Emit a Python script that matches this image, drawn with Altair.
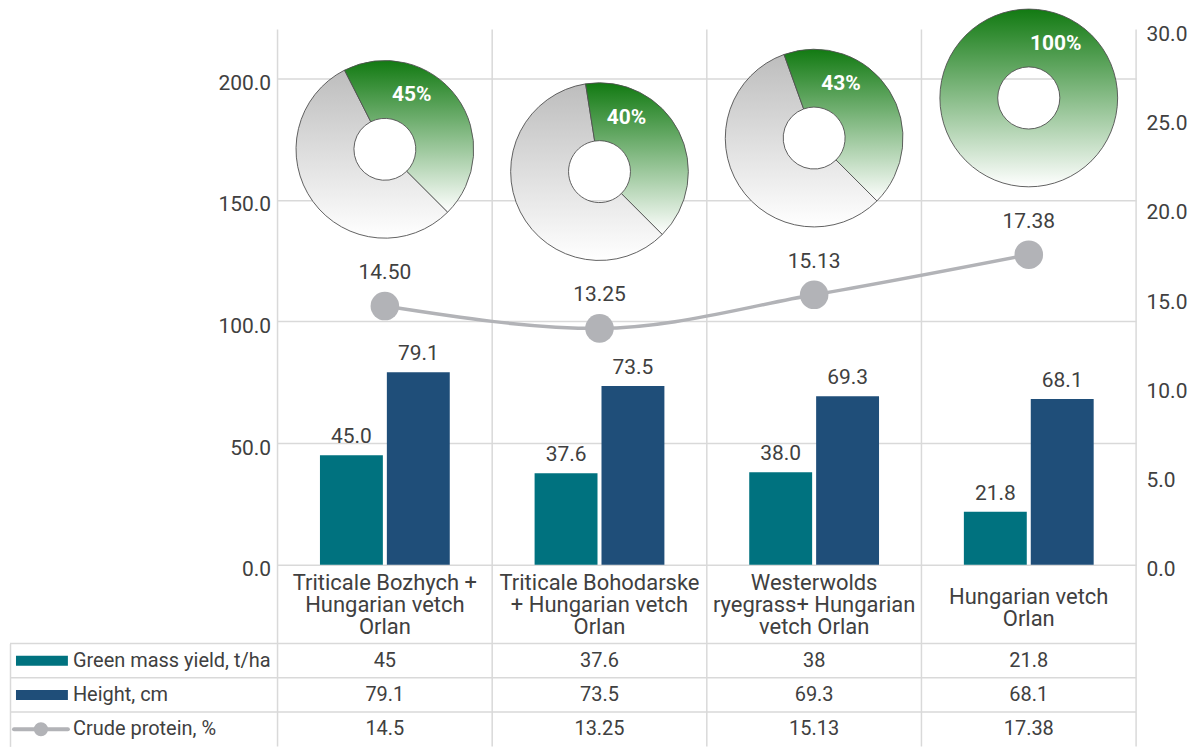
import altair as alt
import pandas as pd

# ---------------- data ----------------
categories = [
    "Triticale Bozhych +\nHungarian vetch\nOrlan",
    "Triticale  Bohodarske\n+ Hungarian vetch\nOrlan",
    "Westerwolds\nryegrass+ Hungarian\nvetch Orlan",
    "Hungarian vetch\nOrlan",
]
green_mass = [45.0, 37.6, 38.0, 21.8]
height_cm = [79.1, 73.5, 69.3, 68.1]
crude_protein = [14.50, 13.25, 15.13, 17.38]
donut_pct = [45, 40, 43, 100]
series_names = ["Green mass yield, t/ha", "Height, cm", "Crude protein, %"]
left_ticks = [0, 50, 100, 150, 200]
right_ticks = [0, 5, 10, 15, 20, 25, 30]

# ---------------- style ----------------
TEAL = "#00727F"
NAVY = "#1F4E79"
GRAY_LINE = "#B2B3B7"
GRID = "#D9D9D9"
TXT = "#404040"
FONT = "Roboto"

PLOT_H = 536      # bar/line area height
TOTAL_H = 718     # plot incl. category band and table
BAND_END = 615    # start of table rows
MAIN_W = 860
LABEL_W = 268

bars_df = pd.DataFrame({
    "cat": categories * 2,
    "series": [series_names[0]] * 4 + [series_names[1]] * 4,
    "value": green_mass + height_cm,
})
prot_df = pd.DataFrame({"cat": categories, "protein": crude_protein, "pct": donut_pct})
table_df = pd.DataFrame({
    "cat": categories * 3,
    "row": [s for s in series_names for _ in range(4)],
    "value": green_mass + height_cm + crude_protein,
})
rows_df = pd.DataFrame({"row": series_names})
cats_df = pd.DataFrame({"cat": categories, "nlines": [c.count("\n") + 1 for c in categories]})

# ---------------- scales / axes ----------------
x_scale = alt.Scale(domain=categories, paddingInner=0, paddingOuter=0)


def xenc(band=None):
    if band is None:
        return alt.X("cat:N", scale=x_scale, axis=None)
    return alt.X("cat:N", scale=x_scale, axis=None, bandPosition=band)


off_scale = alt.Scale(paddingInner=4 / 67, paddingOuter=0.634)
yL_scale = alt.Scale(domain=[0, 220], range=[PLOT_H, 0], nice=False)
yR_scale = alt.Scale(domain=[0, 30], range=[PLOT_H, 0], nice=False)
row_scale = alt.Scale(domain=series_names, range=[BAND_END, TOTAL_H], paddingInner=0, paddingOuter=0)
# first-line position of the category labels so each block is centred in its band
nline_scale = alt.Scale(type="point", domain=[3, 2], range=[PLOT_H + 18, PLOT_H + 32], padding=0)

left_axis = alt.Axis(
    orient="left", values=left_ticks, format=".1f", grid=True, gridColor=GRID,
    gridWidth=1.5, domain=False, ticks=False, tickSize=0, labelPadding=7,
    labelFontSize=21, labelColor=TXT, labelOffset=5, title=None,
)
right_axis = alt.Axis(
    orient="right", values=right_ticks, format=".1f", grid=False, domain=False,
    ticks=False, tickSize=0, labelPadding=10, labelFontSize=21, labelColor=TXT,
    labelOffset=5, title=None,
)

# ---------------- main chart layers ----------------
vlines = alt.Chart(cats_df).mark_rule(color=GRID, strokeWidth=1.5).encode(x=xenc(0))
vlast = alt.Chart(cats_df.tail(1)).mark_rule(color=GRID, strokeWidth=1.5).encode(x=xenc(1))
hlines = alt.Chart(rows_df).mark_rule(color=GRID, strokeWidth=1.5).encode(
    y=alt.Y("row:N", scale=row_scale, axis=None, bandPosition=0)
)

bars = alt.Chart(bars_df).mark_bar().encode(
    x=xenc(),
    xOffset=alt.XOffset("series:N", scale=off_scale, sort=series_names[:2]),
    y=alt.Y("value:Q", scale=yL_scale, axis=left_axis),
    color=alt.Color("series:N", scale=alt.Scale(domain=series_names[:2], range=[TEAL, NAVY]), legend=None),
)
bar_labels = alt.Chart(bars_df).mark_text(dy=-18, baseline="middle", fontSize=21, color=TXT).encode(
    x=xenc(),
    xOffset=alt.XOffset("series:N", scale=off_scale, sort=series_names[:2]),
    y=alt.Y("value:Q", scale=yL_scale, axis=None),
    text=alt.Text("value:Q", format=".1f"),
)

line = alt.Chart(prot_df).mark_line(color=GRAY_LINE, strokeWidth=3.5, interpolate="monotone").encode(
    x=xenc(), y=alt.Y("protein:Q", scale=yR_scale, axis=right_axis)
)
points = alt.Chart(prot_df).mark_circle(size=820, color=GRAY_LINE, opacity=1).encode(
    x=xenc(), y=alt.Y("protein:Q", scale=yR_scale, axis=None)
)
point_labels = alt.Chart(prot_df).mark_text(dy=-33, baseline="middle", fontSize=21, color=TXT).encode(
    x=xenc(), y=alt.Y("protein:Q", scale=yR_scale, axis=None),
    text=alt.Text("protein:Q", format=".2f"),
)

green_grad = {
    "gradient": "linear", "x1": 0, "x2": 0, "y1": 0, "y2": 1,
    "stops": [{"offset": 0, "color": "#127A12"}, {"offset": 1, "color": "#FFFFFF"}],
}
gray_grad = {
    "gradient": "linear", "x1": 0, "x2": 0, "y1": 0, "y2": 1,
    "stops": [{"offset": 0, "color": "#BDBDBD"}, {"offset": 1, "color": "#FFFFFF"}],
}
DONUT_UP = -157
donut_green = alt.Chart(prot_df).transform_calculate(
    t0="(135 - datum.pct * 3.6) * PI / 180", t1="135 * PI / 180"
).mark_arc(outerRadius=89, innerRadius=31, fill=green_grad, stroke="#505050",
           strokeWidth=0.9, yOffset=DONUT_UP).encode(
    x=xenc(), y=alt.Y("protein:Q", scale=yR_scale, axis=None),
    theta=alt.Theta("t0:Q", scale=None), theta2=alt.Theta2("t1"),
)
donut_gray = alt.Chart(prot_df).transform_calculate(
    t0="135 * PI / 180", t1="(135 + (100 - datum.pct) * 3.6) * PI / 180"
).mark_arc(outerRadius=89, innerRadius=31, fill=gray_grad, stroke="#505050",
           strokeWidth=0.9, yOffset=DONUT_UP).encode(
    x=xenc(), y=alt.Y("protein:Q", scale=yR_scale, axis=None),
    theta=alt.Theta("t0:Q", scale=None), theta2=alt.Theta2("t1"),
)
pct_labels = alt.Chart(prot_df).transform_calculate(lbl="datum.pct + '%'").mark_text(
    dx=27, dy=DONUT_UP - 54, baseline="middle", fontSize=21, fontWeight="bold", color="white"
).encode(x=xenc(), y=alt.Y("protein:Q", scale=yR_scale, axis=None), text="lbl:N")

cat_labels = alt.Chart(cats_df).mark_text(
    fontSize=22, lineHeight=22, lineBreak="\n", baseline="middle", color=TXT
).encode(x=xenc(), y=alt.Y("nlines:O", scale=nline_scale, axis=None), text="cat:N")

table_text = alt.Chart(table_df).mark_text(fontSize=20, color=TXT, baseline="middle").encode(
    x=xenc(), y=alt.Y("row:N", scale=row_scale, axis=None), text="value:N"
)

main = alt.layer(
    vlines, vlast, hlines, bars, bar_labels, line, points, point_labels,
    donut_gray, donut_green, pct_labels, cat_labels, table_text,
).resolve_scale(y="independent").properties(width=MAIN_W, height=TOTAL_H)

# ---------------- row-label column ----------------
lab_axis = alt.Axis(title=None, labels=False, ticks=False, grid=False, domain=True,
                    domainColor=GRID, domainWidth=1.5)
lab_y = alt.Y("row:N", scale=row_scale, axis=lab_axis)
lab_lines = alt.Chart(rows_df).mark_rule(color=GRID, strokeWidth=1.5).encode(
    y=alt.Y("row:N", scale=row_scale, axis=lab_axis, bandPosition=0)
)
lab_text = alt.Chart(rows_df).mark_text(align="left", baseline="middle", fontSize=20, color=TXT).encode(
    x=alt.value(63), y=lab_y, text="row:N"
)
sw_bars = alt.Chart(rows_df.iloc[:2]).mark_rule(strokeWidth=10, strokeCap="butt").encode(
    x=alt.value(6), x2=alt.value(58), y=lab_y,
    color=alt.Color("row:N", scale=alt.Scale(domain=series_names[:2], range=[TEAL, NAVY]), legend=None),
)
sw_line = alt.Chart(rows_df.iloc[2:]).mark_rule(strokeWidth=4, color=GRAY_LINE, strokeCap="round").encode(
    x=alt.value(4), x2=alt.value(58), y=lab_y
)
sw_dot = alt.Chart(rows_df.iloc[2:]).mark_circle(size=200, color=GRAY_LINE, opacity=1).encode(
    x=alt.value(31), y=lab_y
)
labels_chart = alt.layer(lab_lines, sw_bars, sw_line, sw_dot, lab_text).properties(
    width=LABEL_W, height=TOTAL_H
)

chart = alt.hconcat(labels_chart, main, spacing=0, bounds="flush").properties(
    padding={"left": 1, "top": -2, "right": 2, "bottom": 0}
).configure(font=FONT).configure_view(stroke=None)

chart.save("out.html", embed_options={"renderer": "svg", "actions": False})
